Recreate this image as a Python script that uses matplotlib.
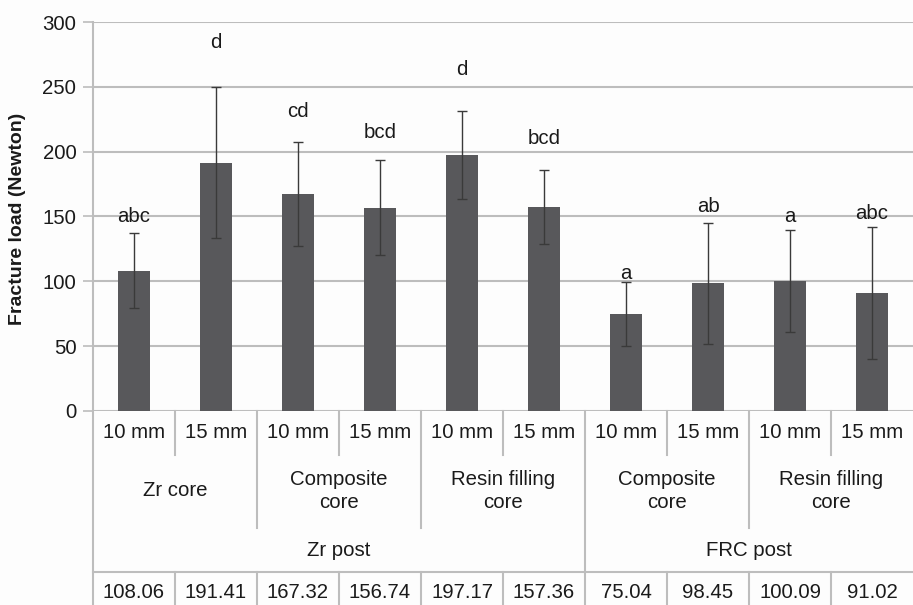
import matplotlib.pyplot as plt
import matplotlib.transforms as mtransforms
import numpy as np

plt.rcParams['font.family'] = ['Liberation Sans', 'DejaVu Sans']

# data
lengths = ['10 mm', '15 mm'] * 5
cores = ['Zr core', 'Composite\ncore', 'Resin filling\ncore', 'Composite\ncore', 'Resin filling\ncore']
posts = ['Zr post', 'FRC post']
means = [108.06, 191.41, 167.32, 156.74, 197.17, 157.36, 75.04, 98.45, 100.09, 91.02]
sds = [29.0, 58.3, 40.0, 36.8, 34.0, 28.5, 24.7, 46.7, 39.4, 50.9]
letters = ['abc', 'd', 'cd', 'bcd', 'd', 'bcd', 'a', 'ab', 'a', 'abc']
letter_y = [150, 284, 231, 215, 263, 210, 106, 158, 150, 152]

W, H = 913, 605
x0, x1 = 93, 913   # plot area in pixels
ytop, ybot = 22, 411
grid_c = '#bdbdbd'
bar_c = '#58585b'
fs = 14.7

fig = plt.figure(figsize=(W / 100, H / 100), dpi=100)
fig.patch.set_facecolor('#fdfdfd')
ax = fig.add_axes([x0 / W, 1 - ybot / H, (x1 - x0) / W, (ybot - ytop) / H])
ax.set_facecolor('#fdfdfd')

x = np.arange(len(means))
ax.bar(x, means, width=0.4, color=bar_c, zorder=3)
ax.errorbar(x, means, yerr=sds, fmt='none', ecolor='#3a3a3a', elinewidth=1.0,
            capsize=3.5, capthick=1.0, zorder=4)
for xi, lab, ly in zip(x, letters, letter_y):
    ax.text(xi, ly, lab, ha='center', va='center', fontsize=fs, color='#1a1a1a')

ax.set_xlim(-0.5, len(means) - 0.5)
ax.set_ylim(0, 300)
ax.set_yticks(range(0, 301, 50))
ax.yaxis.grid(True, color=grid_c, linewidth=1.5, zorder=0)
ax.set_xticks([])
for s in ax.spines.values():
    s.set_visible(False)
ax.tick_params(axis='y', length=7, width=1.2, color=grid_c, pad=5,
               labelsize=fs, labelcolor='#1a1a1a')

fig.text(18 / W, 1 - 219 / H, 'Fracture load (Newton)', rotation=90, ha='center',
         va='center', fontsize=14, fontweight='bold', color='#1a1a1a')

# category table under the axis
tr = mtransforms.blended_transform_factory(ax.transData, ax.transAxes)


def ya(py):
    return (ybot - py) / (ybot - ytop)


def vline(xd, p0, p1):
    ax.plot([xd, xd], [ya(p0), ya(p1)], transform=tr, clip_on=False,
            color=grid_c, linewidth=1.5)


# left border, from top of plot to figure bottom
vline(-0.5, ytop, H)
ax.plot([-0.5, len(means) - 0.5], [ya(572), ya(572)], transform=tr, clip_on=False,
        color=grid_c, linewidth=1.5)
for i in range(1, len(means)):
    b = i - 0.5
    if i == 6:
        vline(b, ybot, H)
    elif i % 2 == 0:
        vline(b, ybot, 528)
        vline(b, 572, H)
    else:
        vline(b, ybot, 455)
        vline(b, 572, H)

for xi, lab, m in zip(x, lengths, means):
    ax.text(xi, ya(433), lab, transform=tr, ha='center', va='center', fontsize=fs,
            color='#1a1a1a')
    ax.text(xi, ya(593), f'{m:.2f}', transform=tr, ha='center', va='center',
            fontsize=fs, color='#1a1a1a')
for j, lab in enumerate(cores):
    ax.text(2 * j + 0.5, ya(491), lab, transform=tr, ha='center', va='center',
            fontsize=fs, color='#1a1a1a', linespacing=1.25)
ax.text(2.5, ya(551), posts[0], transform=tr, ha='center', va='center', fontsize=fs,
        color='#1a1a1a')
ax.text(7.5, ya(551), posts[1], transform=tr, ha='center', va='center', fontsize=fs,
        color='#1a1a1a')

fig.savefig('out.png', dpi=100, facecolor=fig.get_facecolor())
